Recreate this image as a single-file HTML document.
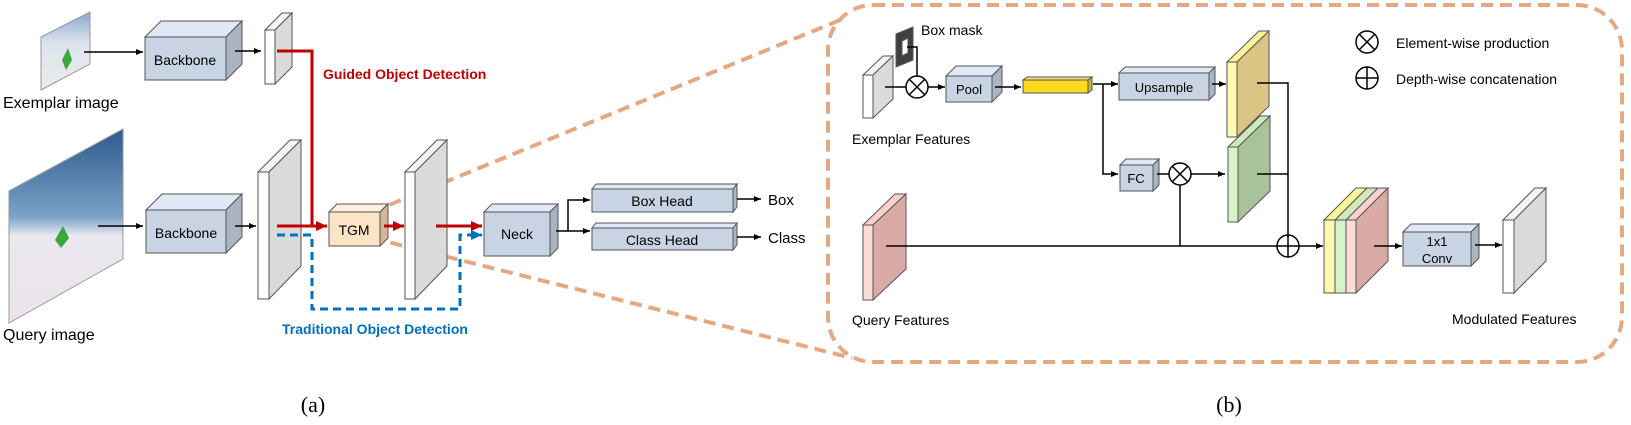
<!DOCTYPE html>
<html><head><meta charset="utf-8"><style>
html,body{margin:0;padding:0;background:#fff;}
svg{display:block;}
text{font-family:"Liberation Sans",sans-serif;}
</style></head><body>
<svg width="1631" height="425" viewBox="0 0 1631 425" xmlns="http://www.w3.org/2000/svg">
<defs>
<marker id="ak" markerWidth="8" markerHeight="8" refX="7" refY="4" orient="auto" markerUnits="userSpaceOnUse"><path d="M0,1 L7,4 L0,7 z" fill="#000"/></marker>
<marker id="ar" markerWidth="12" markerHeight="12" refX="11" refY="6" orient="auto" markerUnits="userSpaceOnUse"><path d="M0,1 L11,6 L0,11 z" fill="#c00000"/></marker>
<marker id="ab" markerWidth="12" markerHeight="12" refX="11" refY="6" orient="auto" markerUnits="userSpaceOnUse"><path d="M0,1 L11,6 L0,11 z" fill="#0070c0"/></marker>
<linearGradient id="sky" x1="0" y1="0" x2="0" y2="1"><stop offset="0" stop-color="#2f5a8c"/><stop offset="0.45" stop-color="#7aa0c8"/><stop offset="0.55" stop-color="#e8e8ee"/><stop offset="1" stop-color="#ece4ea"/></linearGradient>
<linearGradient id="sky2" x1="0" y1="0" x2="0" y2="1"><stop offset="0" stop-color="#8aa8d0"/><stop offset="0.4" stop-color="#dde4ee"/><stop offset="1" stop-color="#eaeaea"/></linearGradient>
</defs>

<!-- orange zoom lines and box -->
<g stroke="#e3a983" stroke-width="4" stroke-dasharray="12,7" fill="none">
<line x1="372" y1="212" x2="845" y2="18"/>
<line x1="372" y1="238" x2="852" y2="358"/>
<rect x="828" y="5" width="794" height="357" rx="45"/>
</g>

<!-- (a) -->
<polygon points="41,37 90,12 90,64 41,90" fill="url(#sky2)" stroke="#999" stroke-width="1"/>
<path d="M62,60 l6,-12 l4,12 l-6,10 z" fill="#3aa83a"/>
<polygon points="9,191 123,129 123,259 9,323" fill="url(#sky)" stroke="#999" stroke-width="1"/>
<path d="M55,240 l8,-14 l6,12 l-8,10 z" fill="#3aa83a"/>
<text x="3" y="108" font-size="16">Exemplar image</text>
<text x="3" y="340" font-size="16">Query image</text>

<!-- Backbones -->
<g stroke="#555" stroke-width="1">
<polygon points="145,37 161,21 242,21 226,37" fill="#dfe8f4"/>
<polygon points="226,37 242,21 242,64 226,80" fill="#a9b4c4"/>
<rect x="145" y="37" width="81" height="43" fill="#c8d4e4"/>
<polygon points="146,210 162,194 242,194 226,210" fill="#dfe8f4"/>
<polygon points="226,210 242,194 242,237 226,253" fill="#a9b4c4"/>
<rect x="146" y="210" width="80" height="43" fill="#c8d4e4"/>
</g>
<text x="185" y="65" font-size="14" text-anchor="middle">Backbone</text>
<text x="186" y="238" font-size="14" text-anchor="middle">Backbone</text>

<!-- features -->
<g stroke="#555" stroke-width="1">
<polygon points="265,30 282,13 292,13 275,30" fill="#f4f4f4"/>
<polygon points="275,30 292,13 292,67 275,84" fill="#dadada"/>
<rect x="265" y="30" width="10" height="54" fill="#fff"/>
<polygon points="258,172 290,140 301,140 269,172" fill="#f4f4f4"/>
<polygon points="269,172 301,140 301,266 269,299" fill="#dadada"/>
<rect x="258" y="172" width="11" height="127" fill="#fff"/>
<polygon points="405,172 437,140 447,140 415,172" fill="#f4f4f4"/>
<polygon points="415,172 447,140 447,266 415,299" fill="#dadada"/>
<rect x="405" y="172" width="10" height="127" fill="#fff"/>
</g>

<!-- TGM -->
<g stroke="#555" stroke-width="1">
<polygon points="329,212 337,204 388,204 380,212" fill="#fdf0e0"/>
<polygon points="380,212 388,204 388,238 380,246" fill="#d8b894"/>
<rect x="329" y="212" width="51" height="34" fill="#fce4c6"/>
</g>
<text x="354" y="235" font-size="14" text-anchor="middle">TGM</text>

<!-- Neck and heads -->
<g stroke="#555" stroke-width="1">
<polygon points="484,212 492,204 558,204 550,212" fill="#dfe8f4"/>
<polygon points="550,212 558,204 558,248 550,256" fill="#a9b4c4"/>
<rect x="484" y="212" width="66" height="44" fill="#c8d4e4"/>
<polygon points="592,189 596,184 737,184 733,189" fill="#dfe8f4"/>
<polygon points="733,189 737,184 737,207 733,212" fill="#a9b4c4"/>
<rect x="592" y="189" width="141" height="23" fill="#c8d4e4"/>
<polygon points="592,228 596,223 737,223 733,228" fill="#dfe8f4"/>
<polygon points="733,228 737,223 737,245 733,250" fill="#a9b4c4"/>
<rect x="592" y="228" width="141" height="22" fill="#c8d4e4"/>
</g>
<text x="517" y="239" font-size="14" text-anchor="middle">Neck</text>
<text x="662" y="206" font-size="14" text-anchor="middle">Box Head</text>
<text x="662" y="245" font-size="14" text-anchor="middle">Class Head</text>
<text x="768" y="205" font-size="15">Box</text>
<text x="768" y="243" font-size="15">Class</text>

<!-- black arrows (a) -->
<g stroke="#000" stroke-width="1.5" fill="none">
<line x1="84" y1="52" x2="143" y2="52" marker-end="url(#ak)"/>
<line x1="235" y1="51" x2="261" y2="51" marker-end="url(#ak)"/>
<line x1="98" y1="226" x2="143" y2="226" marker-end="url(#ak)"/>
<line x1="235" y1="226" x2="256" y2="226" marker-end="url(#ak)"/>
<polyline points="556,231 568,231 568,200 590,200" marker-end="url(#ak)"/>
<line x1="568" y1="231" x2="590" y2="231" marker-end="url(#ak)"/>
<line x1="737" y1="199" x2="761" y2="199" marker-end="url(#ak)"/>
<line x1="737" y1="237" x2="761" y2="237" marker-end="url(#ak)"/>
</g>
<!-- red -->
<g stroke="#c00000" stroke-width="3" fill="none">
<polyline points="277,51 312,51 312,226"/>
<line x1="277" y1="226" x2="327" y2="226" marker-end="url(#ar)"/>
<line x1="384" y1="226" x2="404" y2="226" marker-end="url(#ar)"/>
<line x1="436" y1="226" x2="482" y2="226" marker-end="url(#ar)"/>
</g>
<!-- blue -->
<polyline points="277,235 312,235 312,309 460,309 460,235 482,235" stroke="#0070c0" stroke-width="3" stroke-dasharray="8,5" fill="none" marker-end="url(#ab)"/>
<text x="323" y="79" font-size="14" font-weight="bold" fill="#c00000">Guided Object Detection</text>
<text x="282" y="334" font-size="14" font-weight="bold" fill="#0070c0">Traditional Object Detection</text>

<!-- (b) -->
<g stroke="#555" stroke-width="1">
<polygon points="863,75 883,56 893,56 873,75" fill="#f4f4f4"/>
<polygon points="873,75 893,56 893,99 873,118" fill="#dadada"/>
<rect x="863" y="75" width="10" height="43" fill="#fff"/>
<!-- box mask -->
<polygon points="896,34 913,27 913,60 896,67" fill="#404040"/>
<polygon points="902,41 908,38 908,53 902,56" fill="#fff"/>
<!-- Pool -->
<polygon points="946,76 956,66 1002,66 992,76" fill="#dfe8f4"/>
<polygon points="992,76 1002,66 1002,92 992,102" fill="#a9b4c4"/>
<rect x="946" y="76" width="46" height="26" fill="#c8d4e4"/>
<!-- yellow bar -->
<polygon points="1023,80 1027,77 1092,77 1088,80" fill="#f5e27a"/>
<polygon points="1088,80 1092,77 1092,90 1088,93" fill="#cfb23c"/>
<rect x="1023" y="80" width="65" height="13" fill="#ffd820"/>
<!-- Upsample -->
<polygon points="1119,73 1125,67 1215,67 1209,73" fill="#dfe8f4"/>
<polygon points="1209,73 1215,67 1215,94 1209,100" fill="#a9b4c4"/>
<rect x="1119" y="73" width="90" height="27" fill="#c8d4e4"/>
<!-- FC -->
<polygon points="1120,165 1126,159 1159,159 1153,165" fill="#dfe8f4"/>
<polygon points="1153,165 1159,159 1159,185 1153,191" fill="#a9b4c4"/>
<rect x="1120" y="165" width="33" height="26" fill="#c8d4e4"/>
<!-- query feature -->
<polygon points="863,225 895,194 906,194 873,225" fill="#f8d0cc"/>
<polygon points="873,225 906,194 906,269 873,300" fill="#d9aaa6"/>
<rect x="863" y="225" width="10" height="75" fill="#fcdcd8"/>
<!-- yellow feature -->
<polygon points="1227,62 1259,31 1269,31 1237,62" fill="#fdf49a"/>
<polygon points="1237,62 1269,31 1269,106 1237,137" fill="#dcc584"/>
<rect x="1227" y="62" width="10" height="75" fill="#fdf9b0"/>
<!-- green feature -->
<polygon points="1228,147 1260,116 1270,116 1238,147" fill="#cfeab8"/>
<polygon points="1238,147 1270,116 1270,191 1238,222" fill="#a8c29a"/>
<rect x="1228" y="147" width="10" height="75" fill="#d9f3c8"/>
<!-- stacked -->
<polygon points="1324,220 1356,188 1367,188 1335,220" fill="#fdf49a"/>
<rect x="1324" y="220" width="11" height="73" fill="#fdf9b0"/>
<polygon points="1335,220 1367,188 1378,188 1346,220" fill="#cfeab8"/>
<rect x="1335" y="220" width="11" height="73" fill="#d9f3c8"/>
<polygon points="1346,220 1378,188 1388,188 1356,220" fill="#f8d0cc"/>
<polygon points="1356,220 1388,188 1388,261 1356,293" fill="#d9aaa6"/>
<rect x="1346" y="220" width="10" height="73" fill="#fcdcd8"/>
<!-- 1x1 conv -->
<polygon points="1403,232 1411,224 1479,224 1471,232" fill="#dfe8f4"/>
<polygon points="1471,232 1479,224 1479,258 1471,266" fill="#a9b4c4"/>
<rect x="1403" y="232" width="68" height="34" fill="#c8d4e4"/>
<!-- output -->
<polygon points="1503,220 1535,188 1546,188 1514,220" fill="#f4f4f4"/>
<polygon points="1514,220 1546,188 1546,261 1514,293" fill="#dadada"/>
<rect x="1503" y="220" width="11" height="73" fill="#fff"/>
</g>
<text x="969" y="94" font-size="13" text-anchor="middle">Pool</text>
<text x="1164" y="92" font-size="13" text-anchor="middle">Upsample</text>
<text x="1136" y="183" font-size="13" text-anchor="middle">FC</text>
<text x="1437" y="246" font-size="13" text-anchor="middle">1x1</text>
<text x="1437" y="263" font-size="13" text-anchor="middle">Conv</text>

<g stroke="#000" stroke-width="1.5" fill="none">
<line x1="885" y1="87" x2="906" y2="87"/>
<polyline points="907,47 917,47 917,76"/>
<line x1="928" y1="87" x2="945" y2="87" marker-end="url(#ak)"/>
<line x1="995" y1="87" x2="1021" y2="87" marker-end="url(#ak)"/>
<line x1="1093" y1="84" x2="1118" y2="84" marker-end="url(#ak)"/>
<polyline points="1103,84 1103,174 1118,174" marker-end="url(#ak)"/>
<line x1="1212" y1="84" x2="1226" y2="84" marker-end="url(#ak)"/>
<line x1="1157" y1="174" x2="1169" y2="174"/>
<line x1="1191" y1="174" x2="1225" y2="174" marker-end="url(#ak)"/>
<line x1="886" y1="246" x2="1277" y2="246"/>
<line x1="1180" y1="185" x2="1180" y2="246"/>
<polyline points="1257,83 1288,83 1288,235"/>
<line x1="1257" y1="174" x2="1288" y2="174"/>
<line x1="1299" y1="246" x2="1323" y2="246" marker-end="url(#ak)"/>
<line x1="1374" y1="246" x2="1402" y2="246" marker-end="url(#ak)"/>
<line x1="1475" y1="245" x2="1502" y2="245" marker-end="url(#ak)"/>
<!-- circles -->
<circle cx="917" cy="87" r="11" fill="#fff"/>
<path d="M909,79 L925,95 M925,79 L909,95"/>
<circle cx="1180" cy="174" r="11" fill="#fff"/>
<path d="M1172,166 L1188,182 M1188,166 L1172,182"/>
<circle cx="1288" cy="246" r="11" fill="#fff"/>
<path d="M1277,246 L1299,246 M1288,235 L1288,257"/>
<circle cx="1367" cy="42" r="11" fill="#fff"/>
<path d="M1359,34 L1375,50 M1375,34 L1359,50"/>
<circle cx="1367" cy="78" r="11" fill="#fff"/>
<path d="M1356,78 L1378,78 M1367,67 L1367,89"/>
</g>

<text x="921" y="35" font-size="14">Box mask</text>
<text x="852" y="144" font-size="14">Exemplar Features</text>
<text x="852" y="325" font-size="14">Query Features</text>
<text x="1396" y="48" font-size="14">Element-wise production</text>
<text x="1396" y="84" font-size="14">Depth-wise concatenation</text>
<text x="1452" y="324" font-size="14">Modulated Features</text>

<text x="313" y="412" font-size="22" text-anchor="middle" font-family="Liberation Serif, serif" style="font-family:'Liberation Serif',serif">(a)</text>
<text x="1229" y="412" font-size="22" text-anchor="middle" style="font-family:'Liberation Serif',serif">(b)</text>
</svg>
</body></html>
